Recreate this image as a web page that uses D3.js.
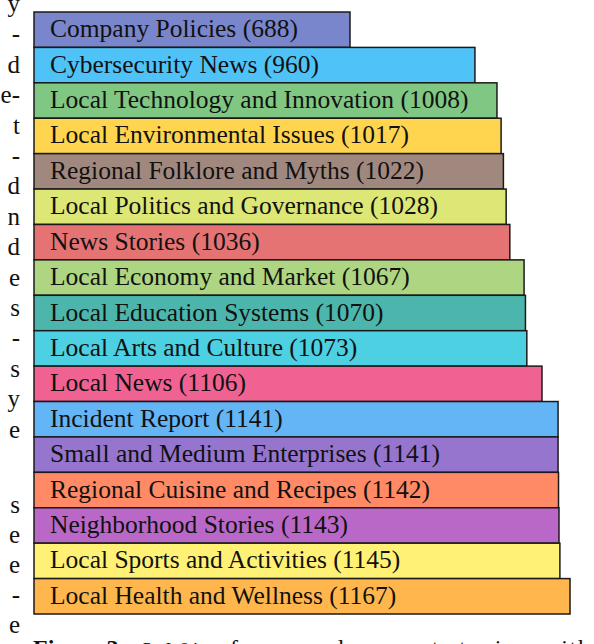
<!DOCTYPE html>
<html>
<head>
<meta charset="utf-8">
<script src="https://cdn.jsdelivr.net/npm/d3@7"></script>
<style>
  html, body { margin: 0; padding: 0; background: #fff; }
  svg { display: block; }
</style>
</head>
<body>
<div id="chart"></div>
<script>
// topics and document counts, top to bottom
const topics = [
    "Company Policies",
    "Cybersecurity News",
    "Local Technology and Innovation",
    "Local Environmental Issues",
    "Regional Folklore and Myths",
    "Local Politics and Governance",
    "News Stories",
    "Local Economy and Market",
    "Local Education Systems",
    "Local Arts and Culture",
    "Local News",
    "Incident Report",
    "Small and Medium Enterprises",
    "Regional Cuisine and Recipes",
    "Neighborhood Stories",
    "Local Sports and Activities",
    "Local Health and Wellness"
];
const counts = [688, 960, 1008, 1017, 1022, 1028, 1036, 1067, 1070, 1073, 1106, 1141, 1141, 1142, 1143, 1145, 1167];
const colors = [
    "#7986CB", "#4FC3F7", "#81C784", "#FFD54F", "#A1887F", "#DCE775",
    "#E57373", "#AED581", "#4DB6AC", "#4DD0E1", "#F06292", "#64B5F6",
    "#9575CD", "#FF8A65", "#BA68C8", "#FFF176", "#FFB74D"
];

// ends of the neighbouring column's lines (cut off by the crop)
const sideText = ["y", "-", "d", "e-", "t", "-", "d", "n", "d", "e", "s", "-", "s", "y", "e", "", "", "s", "e", "e", "-", "e"];

const width = 594, height = 644;
const serif = "'Times New Roman', 'Liberation Serif', serif";

const svg = d3.select("#chart")
    .append("svg")
    .attr("width", width)
    .attr("height", height)
    .attr("viewBox", [0, 0, width, height]);

const x = d3.scaleLinear()
    .domain([0, d3.max(counts)])
    .range([34, 570]);

const y = d3.scaleBand()
    .domain(topics)
    .range([12, 614])
    .padding(0);

const rows = svg.append("g")
    .selectAll("g")
    .data(d3.range(topics.length))
    .join("g");

rows.append("rect")
    .attr("x", x(0))
    .attr("y", i => y(topics[i]))
    .attr("width", i => x(counts[i]) - x(0))
    .attr("height", y.bandwidth())
    .attr("fill", i => colors[i])
    .attr("stroke", "#1a1a1a")
    .attr("stroke-width", 1.5);

rows.append("text")
    .attr("x", x(0) + 16)
    .attr("y", i => y(topics[i]) + y.bandwidth() / 2 + 7.5)
    .attr("font-family", serif)
    .attr("font-size", 25.5)
    .attr("fill", "#111")
    .text(i => `${topics[i]} (${counts[i]})`);

// neighbouring text column
svg.append("g")
    .attr("font-family", serif)
    .attr("font-size", 25)
    .attr("fill", "#111")
    .attr("text-anchor", "end")
    .selectAll("text")
    .data(sideText)
    .join("text")
    .attr("x", 20)
    .attr("y", (d, i) => i < 15 ? 12 + i * 30.4 : 513 + (i - 17) * 30)
    .text(d => d);

// caption, cut off at the bottom edge
const capY = 656;
const caption = svg.append("g")
    .attr("font-family", serif)
    .attr("font-size", 24)
    .attr("fill", "#111");

caption.append("text")
    .attr("x", 33)
    .attr("y", capY)
    .attr("font-weight", "bold")
    .text("Figure 3:");

caption.append("text")
    .attr("x", 143)
    .attr("y", capY)
    .attr("font-size", 18)
    .style("font-variant", "small-caps")
    .attr("textLength", 58)
    .attr("lengthAdjust", "spacingAndGlyphs")
    .text("RepLiQA");

caption.append("text")
    .attr("x", 208)
    .attr("y", capY)
    .attr("textLength", 382)
    .attr("lengthAdjust", "spacing")
    .text("references documents topics, with");
</script>
</body>
</html>
